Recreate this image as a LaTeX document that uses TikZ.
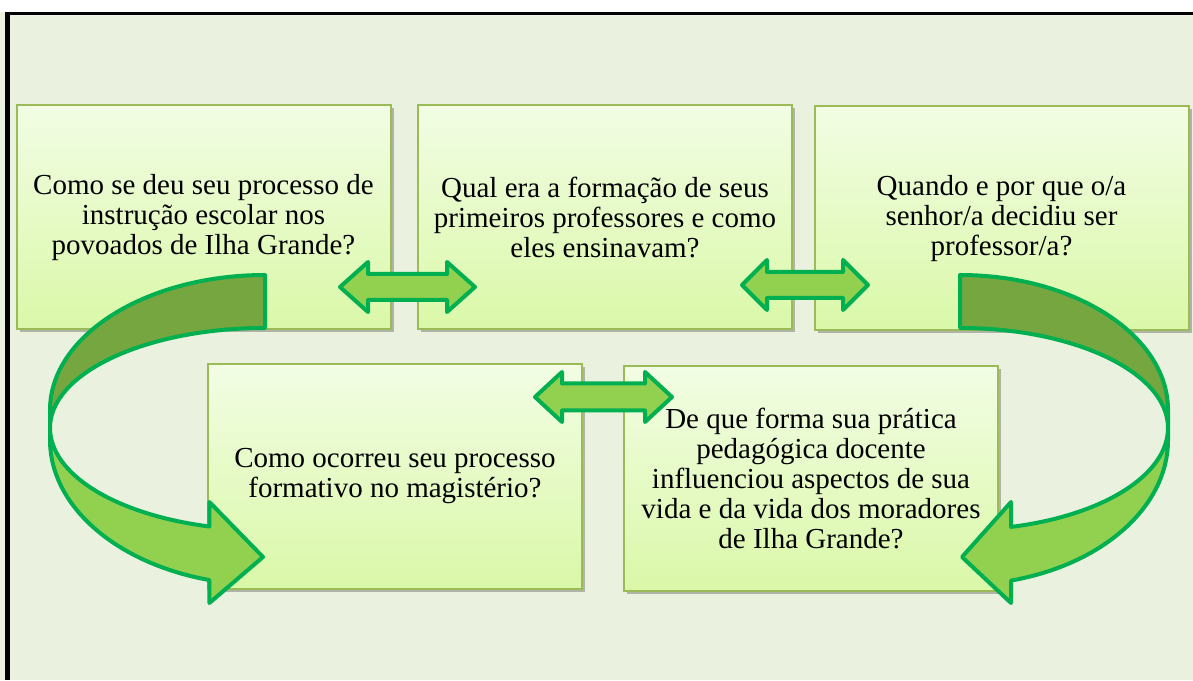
\documentclass[tikz,border=0pt]{standalone}
\usepackage{fontspec}
\setmainfont{Liberation Serif}
\usepackage{tikz}
\usetikzlibrary{shadows}

\definecolor{paper}{RGB}{234,241,222}
\definecolor{boxtop}{RGB}{242,253,228}
\definecolor{boxbot}{RGB}{218,248,168}
\definecolor{boxline}{RGB}{155,187,89}
\definecolor{arrfill}{RGB}{146,208,80}
\definecolor{arrdark}{RGB}{117,166,64}
\definecolor{arrline}{RGB}{0,176,80}

\begin{document}
\begin{tikzpicture}[x=0.5pt, y=0.5pt,
    box/.style={draw=boxline, line width=1pt, top color=boxtop, bottom color=boxbot,
      minimum width=187pt, minimum height=112pt, align=center, inner sep=0pt,
      font=\fontsize{14.5}{15}\selectfont,
      drop shadow={shadow xshift=1.5pt, shadow yshift=-1.5pt, opacity=0.25, fill=black}},
    dblarr/.style={draw=arrline, fill=arrfill, line width=2pt, line join=round},
    bendarr/.style={draw=arrline, line width=2pt, line join=round}]
  \useasboundingbox (0,0) rectangle (1193,680);
  \fill[white] (0,0) rectangle (1193,680);
  \fill[paper] (0,0) rectangle (1193,668);
  \draw[line width=1.5pt] (5,666.5) -- (1193,666.5);
  \draw[line width=2.5pt] (7.5,668) -- (7.5,0);

  \node[box] (Q1) at (203.5,462.5) {Como se deu seu processo de\\instrução escolar nos\\povoados de Ilha Grande?};
  \node[box] (Q2) at (605,462.5) {Qual era a formação de seus\\primeiros professores e como\\eles ensinavam?};
  \node[box] (Q3) at (1001.5,461.5) {Quando e por que o/a\\senhor/a decidiu ser\\professor/a?};
  \node[box] (Q4) at (395,203.5) {Como ocorreu seu processo\\formativo no magistério?};
  \node[box] (Q5) at (811,201.5) {De que forma sua prática\\pedagógica docente\\influenciou aspectos de sua\\vida e da vida dos moradores\\de Ilha Grande?};

  % double arrows between the boxes
  \draw[dblarr] (340,393) -- (368,418) -- (368,406) -- (447,406) -- (447,418) -- (475,393)
    -- (447,368) -- (447,380) -- (368,380) -- (368,368) -- cycle;
  \draw[dblarr] (535,283) -- (562,308) -- (562,296.5) -- (645,296.5) -- (645,308) -- (672,283)
    -- (645,258) -- (645,269.5) -- (562,269.5) -- (562,258) -- cycle;
  \draw[dblarr] (742,395) -- (767,420) -- (767,408) -- (843,408) -- (843,420) -- (868,395)
    -- (843,370) -- (843,382) -- (767,382) -- (767,370) -- cycle;

  % left bent arrow
  \draw[bendarr, fill=arrdark] (265,405) arc[start angle=90, end angle=180, x radius=215, y radius=135]
    -- (50,252) arc[start angle=180, end angle=90, x radius=215, y radius=100] -- cycle;
  \draw[bendarr, fill=arrfill] (50,252) -- (50,240) arc[start angle=180, end angle=255, x radius=215, y radius=145]
    -- (209.4,77) -- (263,123) -- (209.4,178) -- (209.4,153.5)
    arc[start angle=255, end angle=180, x radius=215, y radius=102] -- cycle;

  % right bent arrow
  \draw[bendarr, fill=arrdark] (960,405) arc[start angle=90, end angle=0, x radius=208, y radius=135]
    -- (1168,252) arc[start angle=0, end angle=90, x radius=208, y radius=100] -- cycle;
  \draw[bendarr, fill=arrfill] (1168,252) -- (1168,240) arc[start angle=0, end angle=-75.8, x radius=208, y radius=145]
    -- (1011,77) -- (962,123) -- (1011,178) -- (1011,153.1)
    arc[start angle=-75.8, end angle=0, x radius=208, y radius=102] -- cycle;
\end{tikzpicture}
\end{document}
